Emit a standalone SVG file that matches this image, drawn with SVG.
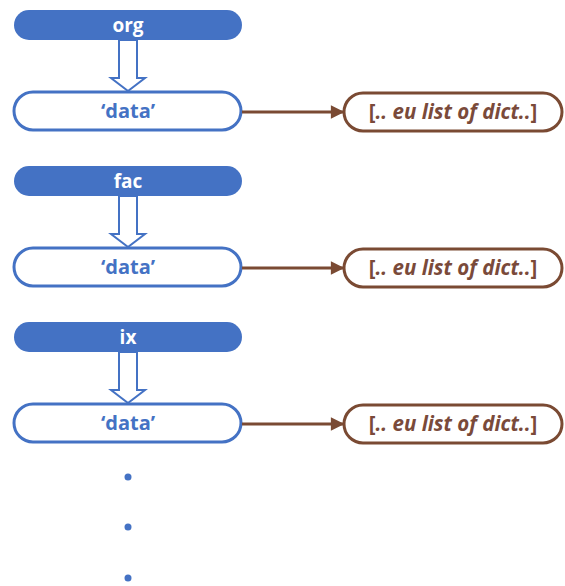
<svg xmlns="http://www.w3.org/2000/svg" width="565" height="586" viewBox="0 0 565 586">
  <defs>
    <style>
      .key { fill: #4472C4; }
      .key-label { fill: #ffffff; font: bold 19px "Open Sans", "Noto Sans", sans-serif; text-anchor: middle; }
      .field { fill: #ffffff; stroke: #4472C4; stroke-width: 3; }
      .field-label { fill: #4472C4; font: bold 20px "Open Sans", "Noto Sans", sans-serif; text-anchor: middle; }
      .value { fill: #ffffff; stroke: #7A4A33; stroke-width: 3; }
      .value-label { fill: #7A4A3A; font: italic bold 20.5px "Open Sans", "Noto Sans", sans-serif; text-anchor: middle; }
      .upright { font-style: normal; }
      .hollow { fill: #ffffff; stroke: #4472C4; stroke-width: 2; stroke-linejoin: miter; }
      .link { stroke: #7A4A33; stroke-width: 3; fill: none; }
      .dot { fill: #4472C4; }
    </style>
    <marker id="head" viewBox="0 0 10 10" refX="9" refY="5" markerWidth="5" markerHeight="4.5" orient="auto" markerUnits="strokeWidth">
      <path d="M0,0 L10,5 L0,10 z" fill="#7A4A33"/>
    </marker>
  </defs>

  <!-- key nodes -->
  <g id="org">
    <rect class="key" x="14" y="10" width="228" height="30" rx="15"/>
    <text class="key-label" x="128" y="32">org</text>
  </g>
  <g id="fac">
    <rect class="key" x="14" y="166" width="228" height="30" rx="15"/>
    <text class="key-label" x="128" y="188">fac</text>
  </g>
  <g id="ix">
    <rect class="key" x="14" y="322" width="228" height="30" rx="15"/>
    <text class="key-label" x="128" y="344">ix</text>
  </g>

  <!-- 'data' field nodes -->
  <g id="data-org">
    <rect class="field" x="14" y="92" width="227" height="38" rx="19"/>
    <text class="field-label" x="128" y="118">‘data’</text>
  </g>
  <g id="data-fac">
    <rect class="field" x="14" y="248" width="227" height="38" rx="19"/>
    <text class="field-label" x="128" y="274">‘data’</text>
  </g>
  <g id="data-ix">
    <rect class="field" x="14" y="404" width="227" height="38" rx="19"/>
    <text class="field-label" x="128" y="430">‘data’</text>
  </g>

  <!-- value nodes -->
  <g id="list-org">
    <rect class="value" x="344" y="93" width="218" height="38" rx="19"/>
    <text class="value-label" x="453" y="119"><tspan class="upright">[</tspan>.. eu list of dict..<tspan class="upright">]</tspan></text>
  </g>
  <g id="list-fac">
    <rect class="value" x="344" y="249" width="218" height="38" rx="19"/>
    <text class="value-label" x="453" y="275"><tspan class="upright">[</tspan>.. eu list of dict..<tspan class="upright">]</tspan></text>
  </g>
  <g id="list-ix">
    <rect class="value" x="344" y="405" width="218" height="38" rx="19"/>
    <text class="value-label" x="453" y="431"><tspan class="upright">[</tspan>.. eu list of dict..<tspan class="upright">]</tspan></text>
  </g>

  <!-- connectors -->
  <g id="connectors">
    <path class="hollow" d="M119,40 L137,40 L137,78 L145,78 L128,91 L111,78 L119,78 Z"/>
    <path class="hollow" d="M119,196 L137,196 L137,234 L145,234 L128,247 L111,234 L119,234 Z"/>
    <path class="hollow" d="M119,352 L137,352 L137,390 L145,390 L128,403 L111,390 L119,390 Z"/>
    <line class="link" x1="242" y1="112" x2="343" y2="112" marker-end="url(#head)"/>
    <line class="link" x1="242" y1="268" x2="343" y2="268" marker-end="url(#head)"/>
    <line class="link" x1="242" y1="424" x2="343" y2="424" marker-end="url(#head)"/>
  </g>

  <!-- continuation dots -->
  <circle class="dot" cx="128" cy="477" r="3.5"/>
  <circle class="dot" cx="128" cy="527" r="3.5"/>
  <circle class="dot" cx="128" cy="578" r="3.5"/>
</svg>
